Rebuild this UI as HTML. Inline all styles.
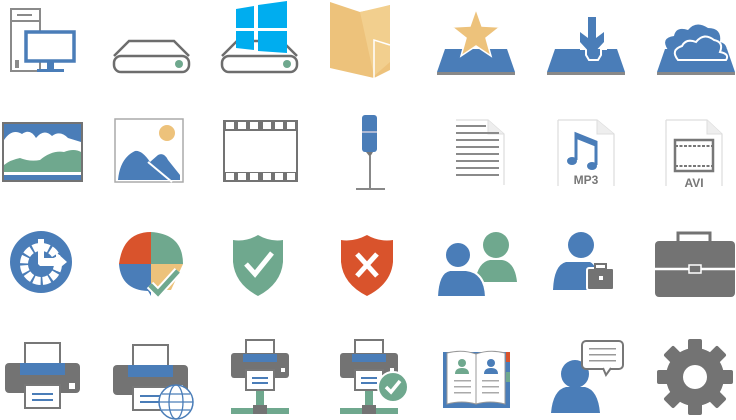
<!DOCTYPE html>
<html><head><meta charset="utf-8"><style>
html,body{margin:0;padding:0;background:#fff;width:736px;height:420px;overflow:hidden}
svg{display:block}
</style></head><body>
<svg width="736" height="420" viewBox="0 0 736 420" xmlns="http://www.w3.org/2000/svg">
<defs>
<g id="drive">
<path d="M0,56 L15,41 L60,41 L75,56" fill="none" stroke="#6d6d6d" stroke-width="2.5"/>
<rect x="0" y="56" width="75" height="16" rx="7" fill="#fff" stroke="#6d6d6d" stroke-width="2.5"/>
<circle cx="65" cy="64" r="4" fill="#6fa88e"/>
</g>
<g id="tray">
<path d="M8,49 L70,49 L78,72 L0,72 Z" fill="#4a7db8"/>
<rect x="0" y="72" width="78" height="3" fill="#888"/>
</g>
<g id="printer">
<rect x="20" y="0" width="35" height="22" fill="#fff" stroke="#777" stroke-width="2"/>
<rect x="0" y="20" width="75" height="30" rx="4" fill="#737373"/>
<rect x="15" y="20" width="45" height="12" fill="#4a7db8"/>
<rect x="64" y="40" width="6" height="6" fill="#fff"/>
<rect x="20" y="42" width="35" height="23" fill="#fff" stroke="#777" stroke-width="2"/>
<rect x="27" y="50" width="21" height="2" fill="#4a7db8"/>
<rect x="27" y="56" width="21" height="2" fill="#4a7db8"/>
</g>
<g id="netprinter">
<rect x="15" y="0" width="28" height="19" fill="#fff" stroke="#777" stroke-width="2"/>
<rect x="0" y="13" width="58" height="25" rx="3" fill="#737373"/>
<rect x="12" y="14" width="34" height="8" fill="#4a7db8"/>
<rect x="50" y="28" width="4" height="4" fill="#fff"/>
<rect x="15" y="30" width="28" height="20" fill="#fff" stroke="#777" stroke-width="2"/>
<rect x="21" y="37" width="16" height="2" fill="#4a7db8"/>
<rect x="21" y="42" width="16" height="2" fill="#4a7db8"/>
<rect x="25" y="51" width="8" height="15" fill="#6fa88e"/>
<rect x="0" y="68" width="24" height="6" fill="#6fa88e"/>
<rect x="35" y="68" width="23" height="6" fill="#6fa88e"/>
<rect x="22" y="65" width="14" height="9" fill="#737373"/>
</g>
</defs>

<!-- Row 1 -->
<rect x="11" y="9" width="29" height="62" fill="#fff" stroke="#8a8a8a" stroke-width="2"/>
<line x1="11" y1="21" x2="40" y2="21" stroke="#8a8a8a" stroke-width="2"/>
<line x1="17" y1="15" x2="32" y2="15" stroke="#8a8a8a" stroke-width="2"/>
<rect x="15" y="60" width="4" height="8" fill="#8a8a8a"/>
<rect x="26" y="32" width="48" height="29" fill="#fff" stroke="#4a7db8" stroke-width="3.5"/>
<rect x="47" y="62" width="7" height="7" fill="#4a7db8"/>
<rect x="37" y="69" width="27" height="3" fill="#4a7db8"/>

<use href="#drive" x="114" y="0"/>
<use href="#drive" x="222" y="0"/>
<path d="M236,9 L254,6 L254,28 L236,28 Z M258,5 L287,1 L287,28 L258,28 Z M236,31 L254,31 L254,50 L236,48 Z M258,31 L287,31 L287,53 L258,51 Z" fill="#00adef"/>

<path d="M330,2 L360,12 L375,9 L390,5 L390,70 L374,78 L330,68 Z" fill="#edc27b"/>
<path d="M360,12 L390,5 L390,62 L374,76 Z" fill="#f2cf8e"/>
<path d="M374,78 L374,40 L390,45" fill="none" stroke="#fff" stroke-width="1.5"/>

<use href="#tray" x="437" y="0"/>
<polygon points="476,9 482,26 500,27 486,38 491,56 476,46 461,56 466,38 452,27 470,26" fill="#edc27b" stroke="#fff" stroke-width="1.5"/>

<use href="#tray" x="547" y="0"/>
<path d="M580,49 L586,49 L586,55 L589,60 L598,60 L601,55 L601,49 L607,49" fill="none" stroke="#fff" stroke-width="2"/>
<path d="M588,17 L596,17 L596,38 L604,32 L604,42 L592,55 L580,42 L580,32 L588,38 Z" fill="#4a7db8"/>

<use href="#tray" x="657" y="0"/>
<path d="M668,50 Q660,38 674,36 Q676,26 688,30 Q696,20 708,28 Q722,28 720,42 Q730,44 726,60 L676,60 Q664,58 668,50 Z" fill="#4a7db8"/>
<path d="M678,60 Q670,50 682,46 Q686,38 696,42 Q704,32 714,40 Q724,42 720,52 Q730,54 726,60 Z" fill="#4a7db8" stroke="#fff" stroke-width="2"/>

<!-- Row 2 -->
<rect x="3" y="123" width="79" height="58" fill="#4a7db8" stroke="#737373" stroke-width="2"/>
<path d="M4,140 Q12,128 22,134 Q30,128 36,138 Q44,128 52,136 Q60,130 68,138 L81,142 L81,160 Q60,150 40,162 L4,165 Z" fill="#fff"/>
<path d="M4,165 Q10,160 20,158 Q30,162 40,160 Q52,150 64,152 Q74,148 81,152 L81,172 L4,172 Z" fill="#6fa88e"/>
<rect x="4" y="172" width="77" height="3" fill="#fff"/>
<rect x="115" y="119" width="68" height="63" fill="#fff" stroke="#aaa" stroke-width="1.5"/>
<circle cx="167" cy="133" r="8" fill="#edc27b"/>
<path d="M118,180 Q120,158 135,151 Q142,150 150,162 L158,155 Q164,152 168,160 L180,175 L180,180 Z" fill="#4a7db8"/>
<line x1="148" y1="162" x2="172" y2="182" stroke="#fff" stroke-width="2"/>
<rect x="223" y="120" width="75" height="62" fill="#737373"/>
<rect x="225" y="131" width="71" height="41" fill="#fff"/>
<g fill="#fff">
<rect x="226" y="122" width="8" height="7"/><rect x="238" y="122" width="8" height="7"/><rect x="250" y="122" width="8" height="7"/><rect x="263" y="122" width="8" height="7"/><rect x="275" y="122" width="8" height="7"/><rect x="287" y="122" width="8" height="7"/>
<rect x="226" y="173" width="8" height="7"/><rect x="238" y="173" width="8" height="7"/><rect x="250" y="173" width="8" height="7"/><rect x="263" y="173" width="8" height="7"/><rect x="275" y="173" width="8" height="7"/><rect x="287" y="173" width="8" height="7"/>
</g>
<rect x="362" y="115" width="15" height="37" rx="3" fill="#4a7db8"/>
<line x1="362" y1="132" x2="377" y2="132" stroke="#ccd" stroke-width="1.5"/>
<path d="M366,152 L373,152 L370,157 Z" fill="#777"/>
<line x1="370" y1="156" x2="370" y2="188" stroke="#888" stroke-width="2"/>
<line x1="356" y1="189" x2="385" y2="189" stroke="#888" stroke-width="2"/>
<path d="M456,120 L488,120 L504,134 L504,185" fill="none" stroke="#ddd" stroke-width="1.2"/>
<path d="M488,120 L488,134 L504,134" fill="#eee" stroke="#ddd"/>
<g fill="#8a8a8a"><rect x="456" y="125" width="30" height="2"/><rect x="456" y="132" width="43" height="2"/><rect x="456" y="139" width="43" height="2"/><rect x="456" y="146" width="43" height="2"/><rect x="456" y="153" width="43" height="2"/><rect x="456" y="160" width="43" height="2"/><rect x="456" y="167" width="43" height="2"/><rect x="456" y="174" width="43" height="2"/></g>
<path d="M558,120 L597,120 L614,134 L614,186 M558,120 L558,186" fill="none" stroke="#ddd" stroke-width="1.2"/>
<path d="M597,120 L597,134 L614,134" fill="#eee" stroke="#ddd"/>
<path d="M576,160 L576,134 L596,142 L596,165" fill="none" stroke="#4a7db8" stroke-width="3"/>
<path d="M576,136 L596,144" stroke="#4a7db8" stroke-width="5"/>
<ellipse cx="572" cy="161" rx="5" ry="4" fill="#4a7db8"/>
<ellipse cx="592" cy="166" rx="5" ry="4" fill="#4a7db8"/>
<text x="586" y="184" font-family="Liberation Sans, sans-serif" font-weight="bold" font-size="12" fill="#777" text-anchor="middle">MP3</text>
<path d="M666,120 L707,120 L722,134 L722,186 M666,120 L666,186" fill="none" stroke="#ddd" stroke-width="1.2"/>
<path d="M707,120 L707,134 L722,134" fill="#eee" stroke="#ddd"/>
<rect x="675" y="140" width="38" height="31" fill="#fff" stroke="#777" stroke-width="2.5"/>
<line x1="675" y1="146" x2="713" y2="146" stroke="#777" stroke-width="2" stroke-dasharray="3 1.5"/>
<line x1="675" y1="166" x2="713" y2="166" stroke="#777" stroke-width="2" stroke-dasharray="3 1.5"/>
<text x="694" y="187" font-family="Liberation Sans, sans-serif" font-weight="bold" font-size="12" fill="#777" text-anchor="middle">AVI</text>

<!-- Row 3 -->
<circle cx="41" cy="262" r="31" fill="#4a7db8"/>
<circle cx="41" cy="264" r="17" fill="none" stroke="#fff" stroke-width="8" stroke-dasharray="7 2"/>
<path d="M38,239 L44,239 L44,258 L56,258 L56,252 L67,262 L56,271 L56,266 L40,266 L38,264 Z" fill="#fff"/>
<path d="M119,264 L151,264 L151,232 Q123,232 119,264 Z" fill="#d9532c"/>
<path d="M151,232 Q183,234 183,264 L151,264 Z" fill="#6fa88e"/>
<path d="M119,264 L151,264 L151,296 L148,291 Q121,290 119,264 Z" fill="#4a7db8"/>
<path d="M151,264 L183,264 L171,290 L151,290 Z" fill="#edc27b"/>
<path d="M150,285 L158,293 L178,271" fill="none" stroke="#fff" stroke-width="9"/>
<path d="M150,285 L158,293 L178,271" fill="none" stroke="#6fa88e" stroke-width="5"/>
<path d="M258,235 Q270,242 283,240 L283,262 Q281,284 258,296 Q235,284 233,262 L233,240 Q246,242 258,235 Z" fill="#6fa88e"/>
<path d="M246,264 L255,274 L272,253" fill="none" stroke="#fff" stroke-width="5"/>
<path d="M367,235 Q379,242 393,240 L393,262 Q391,284 367,296 Q343,284 341,262 L341,240 Q354,242 367,235 Z" fill="#d9532c"/>
<path d="M357,254 L377,276 M377,254 L357,276" stroke="#fff" stroke-width="5"/>
<circle cx="496" cy="245" r="13" fill="#6fa88e"/>
<path d="M475,282 Q478,262 490,260 L502,260 Q515,262 517,282 Z" fill="#6fa88e"/>
<circle cx="458" cy="255" r="13" fill="#4a7db8" stroke="#fff" stroke-width="2"/>
<path d="M437,297 Q438,272 450,270 L466,270 Q485,272 486,297 Z" fill="#4a7db8" stroke="#fff" stroke-width="2"/>
<circle cx="581" cy="245" r="13" fill="#4a7db8"/>
<path d="M553,290 Q554,265 566,262 L590,262 Q598,265 598,290 Z" fill="#4a7db8"/>
<rect x="587" y="268" width="27" height="22" rx="2" fill="#737373" stroke="#fff" stroke-width="2"/>
<rect x="595" y="264" width="11" height="5" fill="none" stroke="#737373" stroke-width="2"/>
<rect x="599" y="276" width="4" height="4" fill="#fff"/>
<rect x="655" y="241" width="80" height="56" rx="4" fill="#737373"/>
<path d="M678,242 L678,233 L710,233 L710,242" fill="none" stroke="#737373" stroke-width="3"/>
<line x1="655" y1="269" x2="735" y2="269" stroke="#fff" stroke-width="2.5"/>
<rect x="689" y="265" width="12" height="8" fill="#737373" stroke="#fff" stroke-width="1.5"/>

<!-- Row 4 -->
<use href="#printer" x="5" y="343"/>
<use href="#printer" x="113" y="345"/>
<circle cx="176" cy="402" r="17" fill="#fff" stroke="#4a7db8" stroke-width="1.5"/>
<ellipse cx="176" cy="402" rx="7" ry="17" fill="none" stroke="#4a7db8" stroke-width="1.3"/>
<line x1="159" y1="402" x2="193" y2="402" stroke="#4a7db8" stroke-width="1.3"/>
<line x1="162" y1="394" x2="190" y2="394" stroke="#4a7db8" stroke-width="1.3"/>
<line x1="162" y1="410" x2="190" y2="410" stroke="#4a7db8" stroke-width="1.3"/>
<use href="#netprinter" x="231" y="340"/>
<use href="#netprinter" x="340" y="340"/>
<circle cx="393" cy="387" r="15" fill="#6fa88e" stroke="#fff" stroke-width="2"/>
<path d="M386,387 L391,392 L400,381" fill="none" stroke="#fff" stroke-width="3.5"/>
<rect x="443" y="352" width="67" height="56" fill="#4a7db8"/>
<rect x="506" y="352" width="4" height="10" fill="#d9532c"/>
<rect x="506" y="372" width="4" height="10" fill="#6fa88e"/>
<path d="M447,353 Q462,349 476,354 L476,404 Q462,400 447,404 Z" fill="#fff" stroke="#999" stroke-width="1"/>
<path d="M476,354 Q490,349 505,353 L505,404 Q490,400 476,404 Z" fill="#fff" stroke="#999" stroke-width="1"/>
<circle cx="462" cy="363" r="4" fill="#6fa88e"/><path d="M455,374 Q455,368 462,368 Q469,368 469,374 Z" fill="#6fa88e"/>
<circle cx="491" cy="363" r="4" fill="#4a7db8"/><path d="M484,374 Q484,368 491,368 Q498,368 498,374 Z" fill="#4a7db8"/>
<g fill="#aaa"><rect x="454" y="380" width="17" height="1.5"/><rect x="454" y="386" width="17" height="1.5"/><rect x="454" y="392" width="17" height="1.5"/><rect x="482" y="380" width="17" height="1.5"/><rect x="482" y="386" width="17" height="1.5"/><rect x="482" y="392" width="17" height="1.5"/></g>
<circle cx="575" cy="374" r="14" fill="#4a7db8"/>
<path d="M551,413 Q553,390 566,387 L585,387 Q598,390 600,413 Z" fill="#4a7db8"/>
<rect x="582" y="341" width="41" height="28" rx="4" fill="#fff" stroke="#777" stroke-width="2"/>
<path d="M603,368 L606,375 L611,368" fill="#fff" stroke="#777" stroke-width="2"/>
<g fill="#999"><rect x="589" y="348" width="27" height="1.5"/><rect x="589" y="354" width="27" height="1.5"/><rect x="589" y="360" width="27" height="1.5"/></g>
<g transform="translate(695,377)" fill="#737373">
<circle r="29"/>
<rect x="-7" y="-38" width="14" height="76" rx="2"/>
<rect x="-7" y="-38" width="14" height="76" rx="2" transform="rotate(45)"/>
<rect x="-7" y="-38" width="14" height="76" rx="2" transform="rotate(90)"/>
<rect x="-7" y="-38" width="14" height="76" rx="2" transform="rotate(135)"/>
<circle r="12" fill="#fff"/>
</g>
</svg>
</body></html>
